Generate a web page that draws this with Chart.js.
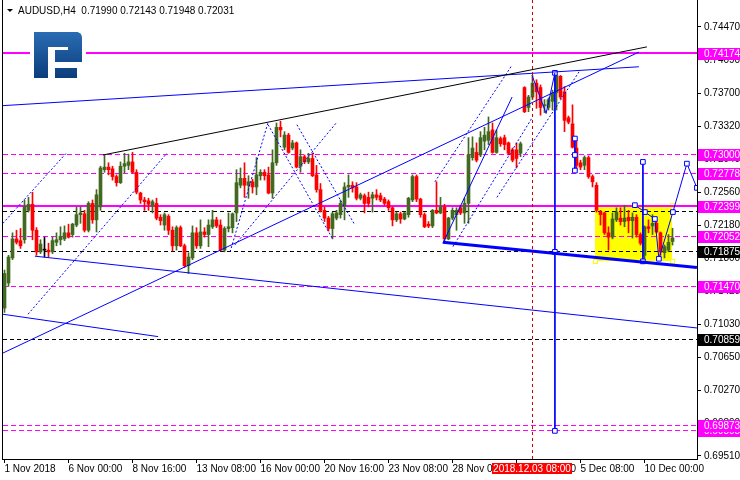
<!DOCTYPE html>
<html>
<head>
<meta charset="utf-8">
<script src="https://cdn.jsdelivr.net/npm/chart.js@4.4.1/dist/chart.umd.min.js"></script>
<style>
  html, body { margin: 0; padding: 0; background: #fff; }
  canvas { display: block; }
</style>
</head>
<body>
<canvas id="chart" width="740" height="480"></canvas>
<script>
// AUDUSD H4, one entry per bar (bar 0 = 1 Nov 2018)
const opens = [
  0.7122,0.7151,0.7180,0.7202,0.7200,0.7201,0.7235,0.7242,0.7212,0.7187,
  0.7189,0.7189,0.7187,0.7198,0.7201,0.7202,0.7209,0.7207,0.7218,0.7230,
  0.7231,0.7212,0.7243,0.7224,0.7239,0.7282,0.7285,0.7283,0.7274,0.7267,
  0.7286,0.7287,0.7291,0.7279,0.7255,0.7247,0.7246,0.7240,0.7243,0.7227,
  0.7218,0.7228,0.7212,0.7194,0.7215,0.7194,0.7171,0.7180,0.7209,0.7194,
  0.7210,0.7207,0.7216,0.7224,0.7218,0.7189,0.7214,0.7215,0.7232,0.7264,
  0.7272,0.7264,0.7268,0.7262,0.7275,0.7279,0.7276,0.7255,0.7290,0.7331,
  0.7308,0.7322,0.7307,0.7313,0.7286,0.7297,0.7291,0.7295,0.7276,0.7259,
  0.7235,0.7226,0.7214,0.7226,0.7230,0.7240,0.7262,0.7264,0.7262,0.7249,
  0.7252,0.7250,0.7249,0.7253,0.7252,0.7248,0.7245,0.7238,0.7224,0.7231,
  0.7225,0.7230,0.7247,0.7274,0.7248,0.7230,0.7219,0.7217,0.7235,0.7232,
  0.7239,0.7202,0.7226,0.7230,0.7238,0.7232,0.7243,0.7296,0.7302,0.7299,
  0.7315,0.7316,0.7328,0.7302,0.7318,0.7319,0.7313,0.7305,0.7305,0.7301,
  0.7377,0.7354,0.7366,0.7382,0.7377,0.7356,0.7354,0.7361,0.7371,0.7390,
  0.7372,0.7342,0.7335,0.7307,0.7290,0.7287,0.7296,0.7274,0.7264,0.7233,
  0.7232,0.7209,0.7204,0.7224,0.7226,0.7222,0.7227,0.7223,0.7227,0.7207,
  0.7183,0.7216,0.7217,0.7220,0.7209,0.7186,0.7189,0.71990
];
const highs = [
  0.7166,0.7183,0.7209,0.7212,0.7214,0.7247,0.7250,0.7256,0.7215,0.7201,
  0.7204,0.7197,0.7204,0.7209,0.7216,0.7217,0.7219,0.7220,0.7239,0.7239,
  0.7235,0.7245,0.7247,0.7259,0.7286,0.7299,0.7290,0.7286,0.7276,0.7291,
  0.7301,0.7300,0.7302,0.7282,0.7256,0.7250,0.7249,0.7247,0.7249,0.7230,
  0.7232,0.7230,0.7216,0.7217,0.7217,0.7196,0.7186,0.7217,0.7215,0.7224,
  0.7215,0.7224,0.7235,0.7227,0.7224,0.7216,0.7232,0.7232,0.7282,0.7284,
  0.7290,0.7275,0.7271,0.7296,0.7282,0.7282,0.7285,0.7305,0.7336,0.7338,
  0.7326,0.7324,0.7316,0.7314,0.7305,0.7299,0.7301,0.7301,0.7287,0.7266,
  0.7239,0.7228,0.7233,0.7235,0.7247,0.7267,0.7276,0.7268,0.7267,0.7255,
  0.7254,0.7256,0.7256,0.7259,0.7255,0.7250,0.7247,0.7239,0.7233,0.7233,
  0.7233,0.7250,0.7276,0.7276,0.7249,0.7232,0.7222,0.7236,0.7268,0.7250,
  0.7242,0.7227,0.7238,0.7238,0.7241,0.7249,0.7319,0.7320,0.7313,0.7326,
  0.7331,0.7343,0.7336,0.7328,0.7320,0.7322,0.7314,0.7307,0.7313,0.7314,
  0.7378,0.7368,0.7391,0.7386,0.7380,0.7363,0.7365,0.7374,0.7394,0.7391,
  0.7378,0.7344,0.7357,0.7316,0.7293,0.7298,0.7298,0.7276,0.7267,0.7235,
  0.7233,0.7216,0.7232,0.7238,0.7238,0.7241,0.7235,0.7232,0.7230,0.7209,
  0.7217,0.7224,0.7230,0.7223,0.7210,0.7195,0.7207,0.72143
];
const lows = [
  0.7117,0.7147,0.7178,0.7196,0.7191,0.7197,0.7233,0.7201,0.7183,0.7185,
  0.7181,0.7181,0.7185,0.7194,0.7195,0.7200,0.7203,0.7204,0.7216,0.7220,
  0.7210,0.7210,0.7220,0.7210,0.7235,0.7279,0.7276,0.7270,0.7263,0.7266,
  0.7278,0.7282,0.7278,0.7254,0.7243,0.7235,0.7235,0.7232,0.7224,0.7218,
  0.7212,0.7207,0.7188,0.7189,0.7193,0.7169,0.7162,0.7178,0.7191,0.7191,
  0.7204,0.7193,0.7214,0.7215,0.7188,0.7187,0.7210,0.7209,0.7222,0.7261,
  0.7250,0.7249,0.7255,0.7253,0.7270,0.7270,0.7254,0.7249,0.7287,0.7320,
  0.7305,0.7301,0.7305,0.7284,0.7279,0.7289,0.7289,0.7274,0.7256,0.7233,
  0.7222,0.7211,0.7202,0.7224,0.7226,0.7224,0.7250,0.7256,0.7247,0.7247,
  0.7232,0.7239,0.7233,0.7247,0.7245,0.7241,0.7235,0.7217,0.7222,0.7220,
  0.7224,0.7227,0.7245,0.7245,0.7227,0.7215,0.7215,0.7215,0.7231,0.7231,
  0.7200,0.7201,0.7224,0.7212,0.7230,0.7220,0.7220,0.7293,0.7291,0.7297,
  0.7305,0.7311,0.7301,0.7301,0.7309,0.7305,0.7299,0.7291,0.7284,0.7297,
  0.7348,0.7349,0.7363,0.7353,0.7345,0.7348,0.7351,0.7351,0.7351,0.7364,
  0.7326,0.7335,0.7307,0.7282,0.7282,0.7282,0.7272,0.7262,0.7233,0.7218,
  0.7207,0.7189,0.7202,0.7222,0.7218,0.7216,0.7209,0.7203,0.7204,0.7195,
  0.7178,0.7209,0.7207,0.7209,0.7183,0.7180,0.7187,0.71948
];
const closes = [
  0.7162,0.7181,0.7202,0.7198,0.7194,0.7239,0.7242,0.7212,0.7187,0.7196,
  0.7189,0.7187,0.7200,0.7201,0.7205,0.7209,0.7204,0.7219,0.7230,0.7232,
  0.7212,0.7243,0.7224,0.7253,0.7284,0.7285,0.7282,0.7274,0.7267,0.7286,
  0.7289,0.7291,0.7279,0.7256,0.7247,0.7245,0.7242,0.7245,0.7226,0.7223,
  0.7230,0.7212,0.7194,0.7215,0.7194,0.7171,0.7181,0.7209,0.7194,0.7210,
  0.7207,0.7218,0.7224,0.7217,0.7189,0.7214,0.7216,0.7231,0.7267,0.7272,
  0.7264,0.7268,0.7262,0.7276,0.7279,0.7275,0.7255,0.7290,0.7331,0.7328,
  0.7322,0.7302,0.7313,0.7285,0.7297,0.7291,0.7295,0.7275,0.7259,0.7235,
  0.7226,0.7214,0.7231,0.7232,0.7243,0.7262,0.7264,0.7261,0.7249,0.7253,
  0.7243,0.7243,0.7253,0.7250,0.7247,0.7243,0.7238,0.7224,0.7231,0.7225,
  0.7232,0.7249,0.7274,0.7248,0.7230,0.7216,0.7217,0.7235,0.7232,0.7239,
  0.7202,0.7226,0.7235,0.7235,0.7232,0.7243,0.7299,0.7307,0.7293,0.7319,
  0.7322,0.7326,0.7302,0.7319,0.7312,0.7311,0.7301,0.7293,0.7295,0.7312,
  0.7349,0.7366,0.7382,0.7372,0.7354,0.7357,0.7363,0.7371,0.7391,0.7366,
  0.7339,0.7337,0.7308,0.7287,0.7285,0.7296,0.7274,0.7268,0.7235,0.7230,
  0.7209,0.7204,0.7225,0.7233,0.7222,0.7226,0.7223,0.7227,0.7207,0.7197,
  0.7216,0.7214,0.7220,0.7210,0.7187,0.7193,0.7198,0.72031
];

const xTickIdx = [0, 16, 32, 48, 64, 80, 96, 112, 128, 144, 160];
const xTickLabels = ['1 Nov 2018', '6 Nov 00:00', '8 Nov 16:00', '13 Nov 08:00', '16 Nov 00:00',
  '20 Nov 16:00', '23 Nov 08:00', '28 Nov 00:00', '30 Nov 16:00', '5 Dec 08:00', '10 Dec 00:00'];
const yTicks = [0.74470, 0.74090, 0.73700, 0.73320, 0.72940, 0.72560, 0.72180,
  0.71800, 0.71420, 0.71030, 0.70650, 0.70270, 0.69890, 0.69510];

// horizontal levels (tags drawn in this order, later ones on top)
const magentaSolid = [0.74174, 0.72399];
const magentaDashed = [0.69805, 0.69873, 0.73000, 0.72778, 0.72052, 0.71470];
const blackDashed = [0.72345, 0.71875, 0.70859];
const blackTagged = [0.71875, 0.70859];

// trend lines and projections: [bar index, price]
const blackTrend = [[24.6, 0.7299], [160.6, 0.7424]];
const blueTrends = [
  [[-0.6, 0.7356], [158.6, 0.7401]],
  [[-0.4, 0.7070], [158.6, 0.7418]],
  [[7.6, 0.7182], [173.1, 0.7099]],
  [[-0.6, 0.7115], [38.4, 0.7089]],
  [[109.6, 0.7197], [126.9, 0.7366]],
  [[131.9, 0.7391], [135.4, 0.7347], [137.6, 0.7394]]
];
const thickTrend = [[109.6, 0.7198], [173.1, 0.7169]];
const dottedTrends = [
  [[-0.4, 0.7220], [15.6, 0.7302]],
  [[5.9, 0.7115], [40.6, 0.7301]],
  [[56.4, 0.7187], [65.9, 0.7337]],
  [[57.6, 0.7195], [83.1, 0.7337]],
  [[65.9, 0.7334], [81.9, 0.7203]],
  [[73.1, 0.7334], [87.6, 0.7218]],
  [[107.6, 0.7268], [126.9, 0.7403]],
  [[112.1, 0.7193], [131.9, 0.7342]],
  [[123.1, 0.7250], [143.9, 0.7397]]
];
const markedLines = [
  [[137.6, 0.7394], [137.6, 0.7187], [137.6, 0.6980]],
  [[142.6, 0.7318], [142.6, 0.7299], [142.6, 0.7281]],
  [[159.6, 0.7291], [159.6, 0.7176]],
  [[157.6, 0.7241], [160.1, 0.7233], [162.6, 0.7225], [163.6, 0.7179],
   [167.1, 0.7233], [170.6, 0.7289], [173.1, 0.7261]]
];
const rangeBox = { from: 147.6, to: 166.9, top: 0.7241, bottom: 0.7176 };
const crossIndex = 132;
const crossLabel = '2018.12.03 08:00';

const xMin = -0.375, xMax = 173.125;
const yMin = 0.69475, yMax = 0.74782;

const BULL = '#41691f', BEAR = '#ff0000', MAG = '#ff00ff', BLUE = '#0000ff';
Chart.defaults.font.family = 'Liberation Sans';
Chart.defaults.font.size = 10;
Chart.defaults.color = '#000';

const idx = opens.map((_, i) => i);
const barColors = idx.map(i => closes[i] > opens[i] ? BULL : (closes[i] < opens[i] ? BEAR : '#000'));

const lineSet = (pts, color, width, dash, marks) => ({
  type: 'line',
  data: pts.map(p => ({ x: p[0], y: p[1] })),
  borderColor: color,
  borderWidth: width,
  borderDash: dash,
  pointRadius: marks ? 3.3 : 0,
  pointStyle: 'rect',
  pointBackgroundColor: '#fff',
  pointBorderColor: color,
  pointBorderWidth: 1,
  fill: false,
  tension: 0,
  order: 1
});

const datasets = [
  { type: 'bar', data: idx.map(i => ({ x: i, y: [lows[i], highs[i]] })), backgroundColor: barColors,
    barThickness: 1, grouped: false, order: 3 },
  { type: 'bar', data: idx.map(i => ({ x: i, y: [opens[i], closes[i]] })), backgroundColor: barColors,
    barThickness: 3, grouped: false, minBarLength: 1, order: 2 },
  lineSet(blackTrend, '#000', 1, [], false),
  ...blueTrends.map(t => lineSet(t, BLUE, 1, [], false)),
  lineSet(thickTrend, BLUE, 3, [], false),
  ...dottedTrends.map(t => lineSet(t, BLUE, 1, [2, 2], false)),
  ...markedLines.map(t => lineSet(t, BLUE, 1, [], true))
];

const decor = {
  id: 'decor',
  beforeDatasetsDraw(chart) {
    const { ctx, chartArea: a, scales: { x, y } } = chart;
    ctx.save();
    // yellow range box
    const bx0 = Math.round(x.getPixelForValue(rangeBox.from));
    const bx1 = Math.round(x.getPixelForValue(rangeBox.to));
    const by0 = Math.round(y.getPixelForValue(rangeBox.top));
    const by1 = Math.round(y.getPixelForValue(rangeBox.bottom));
    ctx.fillStyle = '#ffff00';
    ctx.fillRect(bx0, by0, bx1 - bx0, by1 - by0);
    ctx.strokeStyle = '#ffff00';
    ctx.fillStyle = '#fff';
    [[bx0, by1], [bx1, by1], [bx1, by0]].forEach(([px, py]) => {
      ctx.fillRect(px - 2, py - 2, 5, 5);
      ctx.strokeRect(px - 1.5, py - 1.5, 4, 4);
    });
    // horizontal levels
    const hline = (v, color, width, dash) => {
      const py = Math.round(y.getPixelForValue(v)) + (width % 2 ? 0.5 : 0);
      ctx.strokeStyle = color;
      ctx.lineWidth = width;
      ctx.setLineDash(dash);
      ctx.beginPath();
      ctx.moveTo(a.left, py);
      ctx.lineTo(a.right, py);
      ctx.stroke();
    };
    magentaSolid.forEach(v => hline(v, MAG, 2, []));
    magentaDashed.forEach(v => hline(v, MAG, 1, [5, 3]));
    blackDashed.forEach(v => hline(v, '#000', 1, [4, 3]));
    ctx.restore();
  },
  afterDatasetsDraw(chart) {
    const { ctx, chartArea: a, scales: { x } } = chart;
    const cx = Math.round(x.getPixelForValue(crossIndex)) - 0.5;
    ctx.save();
    ctx.strokeStyle = '#d00000';
    ctx.setLineDash([3, 3]);
    ctx.beginPath();
    ctx.moveTo(cx, a.top);
    ctx.lineTo(cx, a.bottom);
    ctx.stroke();
    ctx.restore();
  },
  afterDraw(chart) {
    const { ctx, chartArea: a, scales: { x, y } } = chart;
    ctx.save();
    // left frame
    ctx.fillStyle = '#000';
    ctx.fillRect(a.left - 1, 0, 1, a.bottom + 1);
    // price tags on the right
    ctx.font = '10px "Liberation Sans"';
    ctx.textBaseline = 'middle';
    ctx.textAlign = 'left';
    const tag = (v, bg) => {
      const py = Math.round(y.getPixelForValue(v));
      ctx.fillStyle = bg;
      ctx.fillRect(a.right + 1, py - 5, 740 - a.right, 12);
      ctx.fillStyle = '#fff';
      ctx.fillText(v.toFixed(5), a.right + 7, py + 1);
    };
    magentaDashed.concat(magentaSolid).forEach(v => tag(v, MAG));
    blackTagged.forEach(v => tag(v, '#000'));
    // crosshair time tag
    const cx = Math.round(x.getPixelForValue(crossIndex)) - 1;
    ctx.fillStyle = '#ff0000';
    ctx.fillRect(cx - 40, a.bottom + 4, 80, 11);
    ctx.fillStyle = '#fff';
    ctx.textAlign = 'center';
    ctx.fillText(crossLabel, cx, a.bottom + 10);
    // symbol header
    const last = opens.length - 1;
    ctx.fillStyle = '#000';
    ctx.beginPath();
    ctx.moveTo(7, 9); ctx.lineTo(13, 9); ctx.lineTo(10, 12); ctx.closePath();
    ctx.fill();
    ctx.textAlign = 'left';
    ctx.textBaseline = 'alphabetic';
    const ohlc = [opens[last], highs[last], lows[last], closes[last]].map(v => v.toFixed(5)).join(' ');
    ctx.fillText('AUDUSD,H4  ' + ohlc, 18, 14);
    // broker logo
    ctx.fillStyle = '#fff';
    ctx.fillRect(30, 28, 56, 54);
    const g = ctx.createLinearGradient(0, 32, 0, 78);
    g.addColorStop(0, '#2a6cb3');
    g.addColorStop(1, '#0b3d7c');
    ctx.fillStyle = g;
    ctx.fillRect(34, 32, 14, 46);
    ctx.fillRect(34, 32, 44, 15);
    ctx.beginPath();
    ctx.moveTo(68, 32); ctx.lineTo(76, 32); ctx.quadraticCurveTo(82, 32, 82, 38);
    ctx.lineTo(82, 62); ctx.lineTo(68, 62); ctx.closePath();
    ctx.fill();
    ctx.fillRect(55, 50, 27, 12);
    ctx.fillRect(55, 68, 22, 10);
    ctx.restore();
  }
};

new Chart(document.getElementById('chart'), {
  type: 'bar',
  data: { datasets },
  options: {
    responsive: false,
    animation: false,
    events: [],
    layout: { autoPadding: false, padding: { left: 3, top: 0, right: 0, bottom: 0 } },
    plugins: { legend: { display: false }, tooltip: { enabled: false } },
    scales: {
      x: {
        type: 'linear', min: xMin, max: xMax, offset: false,
        afterBuildTicks: s => { s.ticks = xTickIdx.map(v => ({ value: v })); },
        afterFit: s => { s.height = 21; s.paddingLeft = 0; s.paddingRight = 0; },
        ticks: { autoSkip: false, maxRotation: 0, align: 'start', padding: 0,
          callback: (v, i) => xTickLabels[i] },
        grid: { drawOnChartArea: false, tickLength: 4, color: '#000', offset: false },
        border: { color: '#000' }
      },
      y: {
        type: 'linear', position: 'right', min: yMin, max: yMax, bounds: 'data',
        afterBuildTicks: s => { s.ticks = yTicks.map(v => ({ value: v })); },
        afterFit: s => { s.width = 43; s.paddingTop = 0; s.paddingBottom = 0; },
        ticks: { autoSkip: false, padding: 3, callback: v => Number(v).toFixed(5) },
        grid: { drawOnChartArea: false, tickLength: 4, color: '#000' },
        border: { color: '#000' }
      }
    }
  },
  plugins: [decor]
});
</script>
</body>
</html>
